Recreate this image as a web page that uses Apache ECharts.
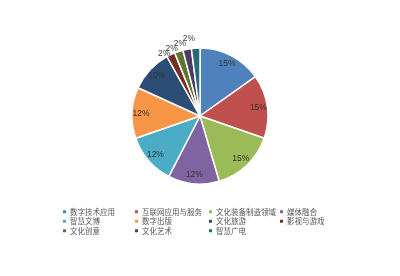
<!DOCTYPE html>
<html><head><meta charset="utf-8">
<script src="https://cdn.jsdelivr.net/npm/echarts@6/dist/echarts.min.js"></script>
<style>html,body{margin:0;padding:0;background:#fff}#c{width:400px;height:276px}</style>
</head><body><div id="c"></div>
<script>
const categories = ['数字技术应用','互联网应用与服务','文化装备制造领域','媒体融合','智慧文博','数字出版','文化旅游','影视与游戏','文化创意','文化艺术','智慧广电'];
const values = [15,15,15,12,12,12,10,2,2,2,2];
const colors = ['#4F81BD','#C0504D','#9BBB59','#8064A2','#4BACC6','#F79646','#2C4D75','#772C2A','#5F7530','#4D3B62','#276A7C'];
const chart = echarts.init(document.getElementById('c'));
const isSmall = v => v < 5;
let k = 0;
const mainData = categories.map((n,i)=>{
  const s = isSmall(values[i]);
  const len = s ? [1,3,6,9][k++ % 4] : 1;
  return {name:n, value:values[i], label:{show:s}, labelLine:{show:false, length:len, length2:0}};
});
const labelData = categories.map((n,i)=>({name:n, value:values[i],
  label:{show:!isSmall(values[i])}}));
const cols = [[0,4,8],[1,5,9],[2,6,10],[3,7]];
const colX = [56,128,202,273];
const legends = cols.map((idx,k)=>({
  orient:'vertical', left:colX[k], top:203, itemGap:2, itemWidth:5, itemHeight:5, icon:'rect',
  data: idx.map(i=>categories[i]),
  textStyle:{fontSize:7.5, color:'#555', fontFamily:'Noto Sans CJK SC', padding:[0,0,0,-2]}
}));
chart.setOption({
  color: colors,
  animation:false,
  legend: legends,
  series:[
   {type:'pie', center:[200,116], radius:[0,68], startAngle:90, clockwise:true,
    avoidLabelOverlap:false, labelLayout:{hideOverlap:false},
    itemStyle:{borderColor:'#fff', borderWidth:1.5},
    label:{position:'outside', formatter:'{c}%', fontSize:8.5, color:'#404040', fontFamily:'Liberation Sans', distanceToLabelLine:0},
    data:mainData},
   {type:'pie', center:[200,116], radius:[42,70], startAngle:90, clockwise:true, silent:true,
    avoidLabelOverlap:false, labelLayout:{hideOverlap:false},
    itemStyle:{color:'rgba(0,0,0,0)', borderWidth:0},
    label:{position:'inside', formatter:'{c}%', fontSize:8.5, color:'#333', fontFamily:'Liberation Sans'},
    labelLine:{show:false},
    data:labelData}
  ]
});
</script></body></html>
